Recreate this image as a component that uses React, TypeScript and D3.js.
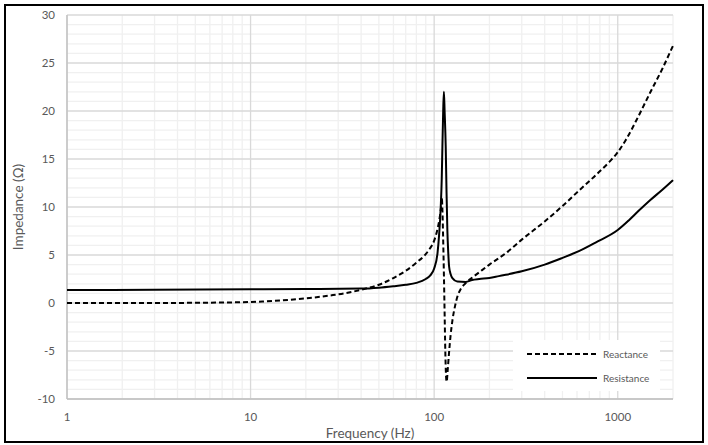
import * as d3 from "d3";

// frequency (Hz) / impedance (ohm)
const reactanceFreq = [
  1, 2, 4, 7, 10, 12, 15, 18, 22, 27, 33, 40, 50, 60, 70, 80, 90, 95, 100, 104,
  107, 109, 110, 111, 112, 113, 114, 115, 116, 117, 118.5, 120.5, 123, 126, 130,
  134, 140, 149, 160, 176, 200, 250, 300, 400, 500, 614, 757, 900, 1000, 1100,
  1300, 1500, 1750, 2000,
];
const reactance = [
  0, 0, 0.01, 0.05, 0.1, 0.17, 0.28, 0.4, 0.56, 0.78, 1.03, 1.38, 1.9, 2.6, 3.35,
  4.2, 5.1, 5.7, 6.5, 7.6, 8.8, 10.0, 11.0, 9.5, 6.5, 3, -1, -5, -7.5, -8.2, -7,
  -5.2, -3.3, -1.7, -0.3, 0.7, 1.5, 2.1, 2.6, 3.2, 4.0, 5.3, 6.6, 8.5, 10.1,
  11.7, 13.3, 14.7, 15.7, 16.9, 19.5, 21.9, 24.4, 26.8,
];

const resistanceFreq = [
  1, 3, 10, 20, 40, 50, 60, 70, 80, 90, 95, 100, 104.3, 106.5, 108.6, 110,
  110.9, 112, 113, 114, 115.6, 116.8, 118, 119.3, 120.6, 123, 125.7, 133.6,
  148.6, 161, 176, 200, 225, 300, 400, 500, 614, 757, 1000, 1148, 1300, 1500,
  1750, 2000,
];
const resistance = [
  1.35, 1.38, 1.42, 1.45, 1.5, 1.6, 1.75, 1.9, 2.1, 2.5, 2.85, 3.6, 5.2, 7.2,
  10, 13, 16.3, 20, 22, 20, 16.3, 11.5, 7.6, 5.3, 3.8, 3.0, 2.6, 2.25, 2.2, 2.4,
  2.5, 2.6, 2.8, 3.3, 4.0, 4.7, 5.4, 6.3, 7.6, 8.6, 9.6, 10.7, 11.8, 12.8,
];

const yTicks = [-10, -5, 0, 5, 10, 15, 20, 25, 30];
const xTicks = [1, 10, 100, 1000];
const xTickLabels = ["1", "10", "100", "1000"];

const W = 708;
const H = 445;
const margin = { left: 67, right: 35, top: 15, bottom: 46 };
const font = "Lato, 'Open Sans', sans-serif";
const grey = "#595959";

interface Pt {
  f: number;
  v: number;
}

export default function App() {
  const x = d3
    .scaleLog()
    .domain([1, 2000])
    .range([margin.left, W - margin.right]);
  const y = d3
    .scaleLinear()
    .domain([-10, 30])
    .range([H - margin.bottom, margin.top]);

  const line = d3
    .line<Pt>()
    .x((d) => x(d.f))
    .y((d) => y(d.v))
    .curve(d3.curveMonotoneX);

  const reactPts: Pt[] = reactanceFreq.map((f, i) => ({ f, v: reactance[i] }));
  const resPts: Pt[] = resistanceFreq.map((f, i) => ({ f, v: resistance[i] }));

  // minor verticals 2..9 of each decade
  const minorX: number[] = [];
  [1, 10, 100, 1000].forEach((d) => {
    for (let k = 2; k <= 9; k++) if (d * k <= 2000) minorX.push(d * k);
  });
  const minorY = d3.range(-10, 31).filter((v) => v % 5 !== 0);

  const [x0, x1] = x.range();
  const [y0, y1] = y.range();

  return (
    <svg
      width={W}
      height={H}
      style={{ position: "absolute", left: 0, top: 0, background: "white" }}
    >
      <rect x={0} y={0} width={W} height={H} fill="white" />

      {/* minor grid */}
      <g stroke="#f0f0f0" strokeWidth={1.3}>
        {minorY.map((v) => (
          <line key={"my" + v} x1={x0} x2={x1} y1={y(v)} y2={y(v)} />
        ))}
        {minorX.map((f) => (
          <line key={"mx" + f} x1={x(f)} x2={x(f)} y1={y0} y2={y1} />
        ))}
      </g>

      {/* major grid */}
      <g stroke="#d9d9d9" strokeWidth={1.3}>
        {yTicks.map((v) => (
          <line key={"gy" + v} x1={x0} x2={x1} y1={y(v)} y2={y(v)} />
        ))}
        {xTicks.map((f) => (
          <line key={"gx" + f} x1={x(f)} x2={x(f)} y1={y0} y2={y1} />
        ))}
      </g>

      {/* axis lines */}
      <line x1={x0} x2={x0} y1={y0} y2={y1} stroke="#bfbfbf" strokeWidth={1.3} />
      <line x1={x0} x2={x1} y1={y0} y2={y0} stroke="#bfbfbf" strokeWidth={1.3} />

      {/* tick labels */}
      <g fontFamily={font} fontSize={11.5} fill={grey}>
        {yTicks.map((v) => (
          <text key={"ty" + v} x={55} y={y(v)} dy="0.35em" textAnchor="end">
            {v}
          </text>
        ))}
        {xTicks.map((f, i) => (
          <text key={"tx" + f} x={x(f)} y={y0 + 22} textAnchor="middle">
            {xTickLabels[i]}
          </text>
        ))}
      </g>

      {/* axis titles */}
      <text
        x={(x0 + x1) / 2}
        y={438}
        textAnchor="middle"
        fontFamily={font}
        fontSize={13.5}
        fill={grey}
      >
        Frequency (Hz)
      </text>
      <text
        transform={`translate(23,${(y0 + y1) / 2}) rotate(-90)`}
        textAnchor="middle"
        fontFamily={font}
        fontSize={13.5}
        fill={grey}
      >
        Impedance (Ω)
      </text>

      {/* series */}
      <path
        d={line(reactPts) ?? ""}
        fill="none"
        stroke="black"
        strokeWidth={2}
        strokeDasharray="5,3"
      />
      <path d={line(resPts) ?? ""} fill="none" stroke="black" strokeWidth={2} />

      {/* legend */}
      <rect x={513} y={340} width={147} height={51} fill="white" />
      <line
        x1={527}
        x2={597}
        y1={354}
        y2={354}
        stroke="black"
        strokeWidth={2}
        strokeDasharray="5,3"
      />
      <line x1={527} x2={597} y1={378} y2={378} stroke="black" strokeWidth={2} />
      <g fontFamily={font} fontSize={10} fill={grey}>
        <text x={603} y={354} dy="0.35em">
          Reactance
        </text>
        <text x={603} y={378} dy="0.35em">
          Resistance
        </text>
      </g>

      {/* outer frame */}
      <rect
        x={5}
        y={5}
        width={698}
        height={437}
        fill="none"
        stroke="black"
        strokeWidth={2}
      />
    </svg>
  );
}
